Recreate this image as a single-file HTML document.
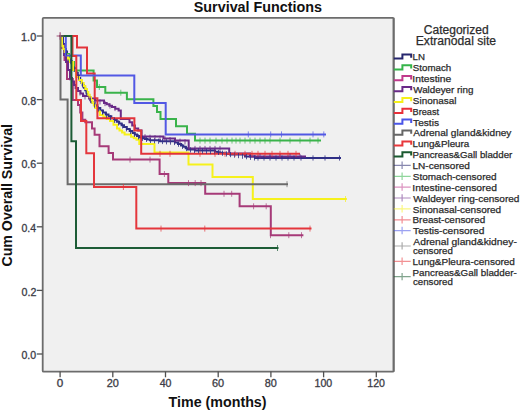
<!DOCTYPE html>
<html><head><meta charset="utf-8"><style>
html,body{margin:0;padding:0;background:#fff;width:520px;height:410px;overflow:hidden}
svg{display:block}
text{font-family:"Liberation Sans",sans-serif}
.lg{fill:#2a2a2a;stroke:#2a2a2a;stroke-width:0.25px}
.tk{fill:#3c3c46;stroke:#3c3c46;stroke-width:0.3px}
.tt{font-weight:bold;fill:#111}
.hd{fill:#2c2c2c;stroke:#2c2c2c;stroke-width:0.25px}
</style></head><body>
<svg width="520" height="410" viewBox="0 0 520 410">
<rect x="0" y="0" width="520" height="410" fill="#fff"/>
<text x="193.77" y="11.60" class="tt" style="font-size:14.00px" textLength="128.33" lengthAdjust="spacingAndGlyphs">Survival Functions</text>
<rect x="42.7" y="17.8" width="350.9" height="353.9" fill="#f0f0f0" stroke="#6c6c6c" stroke-width="1.8" rx="1"/>
<path d="M36.8,354.0H42.5" stroke="#505050" stroke-width="1.3"/><text x="21.48" y="359.10" class="tk" style="font-size:10.40px" textLength="14.69" lengthAdjust="spacingAndGlyphs">0.0</text>
<path d="M36.8,290.4H42.5" stroke="#505050" stroke-width="1.3"/><text x="21.47" y="295.50" class="tk" style="font-size:10.40px" textLength="14.86" lengthAdjust="spacingAndGlyphs">0.2</text>
<path d="M36.8,226.8H42.5" stroke="#505050" stroke-width="1.3"/><text x="21.48" y="231.90" class="tk" style="font-size:10.40px" textLength="14.64" lengthAdjust="spacingAndGlyphs">0.4</text>
<path d="M36.8,163.2H42.5" stroke="#505050" stroke-width="1.3"/><text x="21.48" y="168.30" class="tk" style="font-size:10.40px" textLength="14.75" lengthAdjust="spacingAndGlyphs">0.6</text>
<path d="M36.8,99.6H42.5" stroke="#505050" stroke-width="1.3"/><text x="21.48" y="104.70" class="tk" style="font-size:10.40px" textLength="14.75" lengthAdjust="spacingAndGlyphs">0.8</text>
<path d="M36.8,36.0H42.5" stroke="#505050" stroke-width="1.3"/><text x="21.09" y="41.10" class="tk" style="font-size:10.40px" textLength="15.10" lengthAdjust="spacingAndGlyphs">1.0</text>

<path d="M60.1,371.5V377.3" stroke="#505050" stroke-width="1.3"/><text x="56.83" y="386.80" class="tk" style="font-size:10.40px" textLength="6.49" lengthAdjust="spacingAndGlyphs">0</text>
<path d="M112.8,371.5V377.3" stroke="#505050" stroke-width="1.3"/><text x="106.65" y="386.80" class="tk" style="font-size:10.40px" textLength="12.15" lengthAdjust="spacingAndGlyphs">20</text>
<path d="M165.5,371.5V377.3" stroke="#505050" stroke-width="1.3"/><text x="159.69" y="386.80" class="tk" style="font-size:10.40px" textLength="11.81" lengthAdjust="spacingAndGlyphs">40</text>
<path d="M218.2,371.5V377.3" stroke="#505050" stroke-width="1.3"/><text x="212.05" y="386.80" class="tk" style="font-size:10.40px" textLength="12.15" lengthAdjust="spacingAndGlyphs">60</text>
<path d="M270.9,371.5V377.3" stroke="#505050" stroke-width="1.3"/><text x="264.81" y="386.80" class="tk" style="font-size:10.40px" textLength="12.10" lengthAdjust="spacingAndGlyphs">80</text>
<path d="M323.6,371.5V377.3" stroke="#505050" stroke-width="1.3"/><text x="314.55" y="386.80" class="tk" style="font-size:10.40px" textLength="17.70" lengthAdjust="spacingAndGlyphs">100</text>
<path d="M376.3,371.5V377.3" stroke="#505050" stroke-width="1.3"/><text x="367.25" y="386.80" class="tk" style="font-size:10.40px" textLength="17.70" lengthAdjust="spacingAndGlyphs">120</text>

<text transform="translate(12.2,266) rotate(-90)" x="-0.57" y="0.00" class="tt" style="font-size:14.00px" textLength="142.56" lengthAdjust="spacingAndGlyphs">Cum Overall Survival</text>
<text x="168.56" y="407.30" class="tt" style="font-size:14.00px" textLength="98.00" lengthAdjust="spacingAndGlyphs">Time (months)</text>
<text x="423.80" y="33.80" class="hd" style="font-size:12.00px" textLength="64.91" lengthAdjust="spacingAndGlyphs">Categorized</text>
<text x="415.73" y="44.70" class="hd" style="font-size:12.00px" textLength="80.42" lengthAdjust="spacingAndGlyphs">Extranodal site</text>
<g>
<path d="M60.5,36.0H63.0V44.0H64.0V46.5H65.0V49.0H66.0V51.5H67.0V54.0H68.2V56.4H69.3V58.7H70.5V61.0H71.7V63.4H72.9V65.8H74.1V68.3H75.3V70.7H76.6V73.1H77.8V75.6H79.0V78.0H80.2V80.5H81.5V82.9H82.7V85.3H83.9V87.8H85.2V90.2H86.4V92.7H87.7V95.2H89.1V97.6H90.4V100.0H91.7V102.5H94.6V105.2H97.4V107.9H100.3V110.6H103.0V112.5H105.8V114.5H108.5V116.3H111.3V118.2H114.0V120.0H116.8V121.8H119.2V123.5H121.6V125.3H124.0V127.0H126.8V129.0H129.7V131.0H132.5V133.0H134.8V134.5H137.0V135.9H139.3V137.4H142.0V138.1H144.7V138.9H147.3V139.6H150.0V140.3H160.0V141.3H175.0V142.5H178.0V144.0H181.0V145.5H183.3V146.8H185.7V148.2H188.0V149.5H195.0V150.5H215.0V151.8H217.5V152.2H220.0V152.7H222.5V153.2H225.0V153.6H227.5V154.1H230.0V154.5H245.0V156.5H255.0V158.0H340" stroke="#2f2f86" stroke-width="2" fill="none" stroke-linejoin="miter" stroke-linecap="square"/>
<path d="M60.5,36H62V46H65V54H69V62H74V70.5H93.6V80.5H97V87H105.3V92.7H126.9V99.3H153.4V106H157V112H160.5V119H176V126.3H187V133.8H195V140.6H320" stroke="#3ab34b" stroke-width="2" fill="none" stroke-linejoin="miter" stroke-linecap="square"/>
<path d="M60.5,36H62V48H64.5V60H67V79H72.8V100H78V105H80.2V112.5H82.4V119.8H85.3V122.2H92V128.5H94.6V134.8H99.5V146.3H108.6V153H113V159.6H159.6V174H168.3V183.1H205.2V193.8H239.6V206.3H270.8V235.2H302.4" stroke="#a63a78" stroke-width="2" fill="none" stroke-linejoin="miter" stroke-linecap="square"/>
<path d="M60.5,36.0H62.0V45.0H64.0V55.0H66.0V62.0H68.0V70.0H70.0V78.0H72.0V81.5H74.0V85.0H76.0V88.0H78.0V91.0H80.5V93.5H83.0V96.0H89.0V98.6H95.0V100.5H104.0V103.0H106.7V104.3H109.3V105.7H112.0V107.0H115.3V108.7H118.6V110.4H120.8V112.4V119.1H126.8H129.5V122.2H132.2V125.4H134.9V128.5H138.2V130.5H141.6V132.5V136.5H163.4V138.5H175.0V140.5H188.7V142.3V148.5H229.2V153.5H250V156.5H305" stroke="#6a2a88" stroke-width="2" fill="none" stroke-linejoin="miter" stroke-linecap="square"/>
<path d="M60.5,36.0H62.0V46.0H63.3V49.0H64.7V52.0H66.0V55.0H68.0V58.5H70.0V62.0H73.0V70.0H76.0V77.0H79.0V80.0H82.0V83.0H83.7V86.0H85.3V89.0H87.0V92.0H88.3V94.7H89.7V97.3H91.0V100.0H92.4V102.7H93.8V105.3H95.2V108.0H97.6V111.5H100.0V115.0H103.3V117.0H106.7V119.0H110.0V121.0H113.5V124.8H117.0V128.5H119.5V130.5H122.1V132.5H124.6V134.5H131.0V136.8H133.8V138.3H136.5V139.8H139.3V141.3V144H154.5V152.4H188.5V164.4H212.5V177H252.8V199H345.8" stroke="#f6f11c" stroke-width="2" fill="none" stroke-linejoin="miter" stroke-linecap="square"/>
<path d="M60.5,36H77V47.6H87V73.5H94.7V98.2H97.4V118.2H134.4V130.5H141.2V153.8H299" stroke="#e2333a" stroke-width="2" fill="none" stroke-linejoin="miter" stroke-linecap="square"/>
<path d="M60.5,36H65.8V55.5H80.8V75.4H134.3V103H165.7V134.4H325" stroke="#5258e4" stroke-width="2" fill="none" stroke-linejoin="miter" stroke-linecap="square"/>
<path d="M60.5,36V99.5H67.6V184.2H287" stroke="#6b6b6b" stroke-width="2" fill="none" stroke-linejoin="miter" stroke-linecap="square"/>
<path d="M60.5,36H72.5V56H76.3V100H81V121H86.3V153.3H94V187H136.3V228.6H310.5" stroke="#e4363c" stroke-width="2" fill="none" stroke-linejoin="miter" stroke-linecap="square"/>
<path d="M60.5,36H71.4V141.3H76V248H277.5" stroke="#1c5c36" stroke-width="2" fill="none" stroke-linejoin="miter" stroke-linecap="square"/>
<path d="M66.5,50.1V55.4M70.5,58.4V63.6M74.5,66.4V71.6M78.5,74.4V79.6M82.5,82.4V87.6M86.5,90.3V95.5M90.5,97.7V102.9M94.5,102.5V107.7M98.5,106.3V111.5M102.5,109.6V114.8M106.5,112.4V117.6M110.5,115.0V120.2M114.5,117.7V122.9M118.5,120.4V125.6M122.5,123.3V128.5M126.5,126.2V131.4M130.5,129.0V134.2M134.5,131.7V136.9M138.5,134.3V139.5M142.5,135.7V140.9M146.5,136.8V142.0M150.5,137.8V143.0M154.5,138.2V143.3M158.5,138.6V143.8M162.5,138.9V144.1M166.5,139.2V144.4M170.5,139.5V144.7M174.5,139.9V145.1M178.5,141.7V146.8M182.5,143.8V149.0M186.5,146.0V151.2M190.5,147.3V152.5M194.5,147.8V153.0M198.5,148.1V153.3M202.5,148.4V153.6M206.5,148.6V153.8M210.5,148.9V154.1M214.5,149.2V154.4M218.5,149.8V155.0M222.5,150.6V155.8M226.5,151.3V156.5M230.5,152.0V157.2M234.5,152.5V157.7M238.5,153.0V158.2M242.5,153.6V158.8M246.5,154.1V159.3M250.5,154.7V159.9M254.5,155.3V160.5M258.0,155.4V160.6M264.0,155.4V160.6M270.0,155.4V160.6M276.0,155.4V160.6M282.0,155.4V160.6M288.0,155.4V160.6M294.0,155.4V160.6M301.0,155.4V160.6M313.0,155.4V160.6M325.0,155.4V160.6M339.5,155.4V160.6" stroke="#2f2f86" stroke-width="1" fill="none" opacity="0.80"/>
<path d="M200.0,137.6V143.6M205.0,137.6V143.6M210.0,137.6V143.6M216.0,137.6V143.6M222.0,137.6V143.6M227.0,137.6V143.6M232.0,137.6V143.6M236.0,137.6V143.6M240.0,137.6V143.6M245.0,137.6V143.6M250.0,137.6V143.6M255.0,137.6V143.6M260.0,137.6V143.6M265.0,137.6V143.6M270.0,137.6V143.6M280.0,137.6V143.6M290.0,137.6V143.6M300.0,137.6V143.6M310.0,137.6V143.6M318.0,137.6V143.6M99.3,84.0V90.0M120.8,89.7V95.7" stroke="#3ab34b" stroke-width="1" fill="none" opacity="0.70"/>
<path d="M130.0,156.6V162.6M150.0,156.6V162.6M164.4,171.0V177.0M188.5,180.1V186.1M195.2,180.1V186.1M201.0,180.1V186.1M224.0,190.8V196.8M231.7,190.8V196.8M253.6,203.3V209.3M266.2,203.3V209.3M270.5,232.2V238.2M288.8,232.2V238.2M301.5,232.2V238.2" stroke="#a63a78" stroke-width="1" fill="none" opacity="0.70"/>
<path d="M70.0,75.4V80.6M75.0,83.9V89.1M80.0,90.4V95.6M85.0,94.3V99.5M90.0,96.3V101.5M95.0,97.9V103.1M100.0,99.3V104.5M105.0,100.9V106.1M110.0,103.4V108.6M115.0,105.9V111.1M145.0,134.2V139.4M150.0,134.7V139.9M155.0,135.1V140.3M160.0,135.6V140.8M165.0,136.2V141.4M170.0,137.0V142.2M175.0,137.9V143.1M180.0,138.6V143.8M185.0,139.2V144.4M195.0,145.9V151.1M200.0,145.9V151.1M205.0,145.9V151.1M210.0,145.9V151.1M215.0,145.9V151.1M220.0,145.9V151.1M260.0,153.9V159.1M270.0,153.9V159.1M280.0,153.9V159.1M290.0,153.9V159.1M300.0,153.9V159.1" stroke="#6a2a88" stroke-width="1" fill="none" opacity="0.80"/>
<path d="M345.5,196.0V202.0" stroke="#f6f11c" stroke-width="1" fill="none" opacity="0.70"/>
<path d="M160.0,150.8V156.8M170.0,150.8V156.8M200.0,150.8V156.8M215.0,150.8V156.8M225.0,150.8V156.8M235.0,150.8V156.8M245.0,150.8V156.8M252.0,150.8V156.8M258.0,150.8V156.8M265.0,150.8V156.8M272.0,150.8V156.8M280.0,150.8V156.8M288.0,150.8V156.8M296.0,150.8V156.8" stroke="#e2333a" stroke-width="1" fill="none" opacity="0.70"/>
<path d="M248.3,131.4V137.4M270.7,131.4V137.4M281.5,131.4V137.4M313.0,131.4V137.4M323.8,131.4V137.4" stroke="#5258e4" stroke-width="1" fill="none" opacity="0.70"/>
<path d="M287.0,181.2V187.2" stroke="#6b6b6b" stroke-width="1" fill="none" opacity="0.70"/>
<path d="M123.4,184.0V190.0M161.0,225.6V231.6M204.8,225.6V231.6M310.0,225.6V231.6" stroke="#e4363c" stroke-width="1" fill="none" opacity="0.70"/>
<path d="M277.5,245.0V251.0" stroke="#1c5c36" stroke-width="1" fill="none" opacity="0.70"/>
<path d="M56.6,36H63.6M60.1,32.3V39.7" stroke="#a0507a" stroke-width="1.2" fill="none"/>

</g>
<path d="M393.7,17.8V371.7" stroke="#6c6c6c" stroke-width="1.8"/>
<path d="M393.8,58.6H402.4V54.4H411.2V57.7" stroke="#26266e" stroke-width="2" fill="none"/>
<text x="412.53" y="60.40" class="lg" style="font-size:9.60px" textLength="12.38" lengthAdjust="spacingAndGlyphs">LN</text>
<path d="M393.8,69.5H402.4V65.3H411.2V68.6" stroke="#35b44a" stroke-width="2" fill="none"/>
<text x="412.86" y="71.27" class="lg" style="font-size:9.60px" textLength="38.38" lengthAdjust="spacingAndGlyphs">Stomach</text>
<path d="M393.8,80.3H402.4V76.1H411.2V79.4" stroke="#c03a8c" stroke-width="2" fill="none"/>
<text x="412.37" y="82.14" class="lg" style="font-size:9.60px" textLength="39.00" lengthAdjust="spacingAndGlyphs">Intestine</text>
<path d="M393.8,91.2H402.4V87.0H411.2V90.3" stroke="#6a2a88" stroke-width="2" fill="none"/>
<text x="413.25" y="93.01" class="lg" style="font-size:9.60px" textLength="60.11" lengthAdjust="spacingAndGlyphs">Waldeyer ring</text>
<path d="M393.8,102.1H402.4V97.9H411.2V101.2" stroke="#f5f01a" stroke-width="2" fill="none"/>
<text x="412.85" y="103.88" class="lg" style="font-size:9.60px" textLength="43.51" lengthAdjust="spacingAndGlyphs">Sinonasal</text>
<path d="M393.8,113.0H402.4V108.8H411.2V112.1" stroke="#e8303a" stroke-width="2" fill="none"/>
<text x="412.57" y="114.75" class="lg" style="font-size:9.60px" textLength="26.53" lengthAdjust="spacingAndGlyphs">Breast</text>
<path d="M393.8,123.8H402.4V119.6H411.2V122.9" stroke="#4a55e8" stroke-width="2" fill="none"/>
<text x="413.10" y="125.62" class="lg" style="font-size:9.60px" textLength="25.87" lengthAdjust="spacingAndGlyphs">Testis</text>
<path d="M393.8,134.7H402.4V130.5H411.2V133.8" stroke="#666666" stroke-width="2" fill="none"/>
<text x="413.30" y="136.49" class="lg" style="font-size:9.60px" textLength="98.09" lengthAdjust="spacingAndGlyphs">Adrenal gland&amp;kidney</text>
<path d="M393.8,145.6H402.4V141.4H411.2V144.7" stroke="#e8383c" stroke-width="2" fill="none"/>
<text x="412.51" y="147.36" class="lg" style="font-size:9.60px" textLength="56.81" lengthAdjust="spacingAndGlyphs">Lung&amp;Pleura</text>
<path d="M393.8,156.4H402.4V152.2H411.2V155.5" stroke="#1a5a30" stroke-width="2" fill="none"/>
<text x="412.52" y="158.23" class="lg" style="font-size:9.60px" textLength="99.76" lengthAdjust="spacingAndGlyphs">Pancreas&amp;Gall bladder</text>
<path d="M393.8,165.4H410.7M402.1,161.6V169.0" stroke="#26266e" stroke-width="1.2" fill="none" opacity="0.55"/>
<text x="412.50" y="169.10" class="lg" style="font-size:9.60px" textLength="57.46" lengthAdjust="spacingAndGlyphs">LN-censored</text>
<path d="M393.8,176.3H410.7M402.1,172.5V179.9" stroke="#35b44a" stroke-width="1.2" fill="none" opacity="0.55"/>
<text x="412.85" y="179.97" class="lg" style="font-size:9.60px" textLength="83.73" lengthAdjust="spacingAndGlyphs">Stomach-censored</text>
<path d="M393.8,187.1H410.7M402.1,183.3V190.7" stroke="#c03a8c" stroke-width="1.2" fill="none" opacity="0.55"/>
<text x="412.38" y="190.84" class="lg" style="font-size:9.60px" textLength="84.52" lengthAdjust="spacingAndGlyphs">Intestine-censored</text>
<path d="M393.8,198.0H410.7M402.1,194.2V201.6" stroke="#6a2a88" stroke-width="1.2" fill="none" opacity="0.55"/>
<text x="413.25" y="201.71" class="lg" style="font-size:9.60px" textLength="106.19" lengthAdjust="spacingAndGlyphs">Waldeyer ring-censored</text>
<path d="M393.8,208.9H410.7M402.1,205.1V212.5" stroke="#f5f01a" stroke-width="1.2" fill="none" opacity="0.55"/>
<text x="412.85" y="212.58" class="lg" style="font-size:9.60px" textLength="88.29" lengthAdjust="spacingAndGlyphs">Sinonasal-censored</text>
<path d="M393.8,219.8H410.7M402.1,216.0V223.4" stroke="#e8303a" stroke-width="1.2" fill="none" opacity="0.55"/>
<text x="412.51" y="223.45" class="lg" style="font-size:9.60px" textLength="72.66" lengthAdjust="spacingAndGlyphs">Breast-censored</text>
<path d="M393.8,230.6H410.7M402.1,226.8V234.2" stroke="#4a55e8" stroke-width="1.2" fill="none" opacity="0.55"/>
<text x="413.10" y="234.32" class="lg" style="font-size:9.60px" textLength="71.30" lengthAdjust="spacingAndGlyphs">Testis-censored</text>
<path d="M393.8,246.0H410.7M402.1,242.2V249.6" stroke="#666666" stroke-width="1.2" fill="none" opacity="0.55"/>
<text x="413.30" y="245.19" class="lg" style="font-size:9.60px" textLength="103.54" lengthAdjust="spacingAndGlyphs">Adrenal gland&amp;kidney-</text>
<text x="412.91" y="254.19" class="lg" style="font-size:9.60px" textLength="39.91" lengthAdjust="spacingAndGlyphs">censored</text>
<path d="M393.8,261.4H410.7M402.1,257.6V265.0" stroke="#e8383c" stroke-width="1.2" fill="none" opacity="0.55"/>
<text x="412.50" y="265.06" class="lg" style="font-size:9.60px" textLength="102.45" lengthAdjust="spacingAndGlyphs">Lung&amp;Pleura-censored</text>
<path d="M393.8,276.7H410.7M402.1,272.9V280.3" stroke="#1a5a30" stroke-width="1.2" fill="none" opacity="0.55"/>
<text x="412.51" y="275.93" class="lg" style="font-size:9.60px" textLength="104.30" lengthAdjust="spacingAndGlyphs">Pancreas&amp;Gall bladder-</text>
<text x="412.91" y="284.93" class="lg" style="font-size:9.60px" textLength="39.91" lengthAdjust="spacingAndGlyphs">censored</text>

</svg>
</body></html>
